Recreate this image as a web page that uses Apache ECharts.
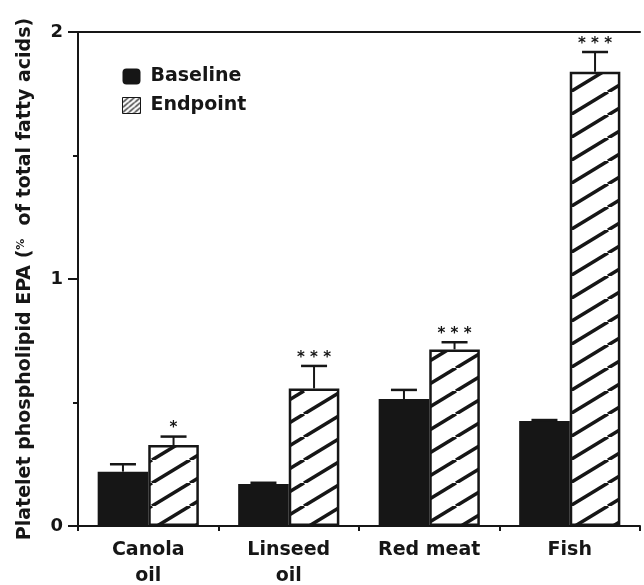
<!DOCTYPE html>
<html>
<head>
<meta charset="utf-8">
<script src="https://cdn.jsdelivr.net/npm/echarts@6/dist/echarts.min.js"></script>
<style>
html,body{margin:0;padding:0;background:#fff;}
#chart{width:644px;height:585px;}
</style>
</head>
<body>
<div id="chart"></div>
<script>
// ---- data ----
const categories = ['Canola\noil', 'Linseed\noil', 'Red meat', 'Fish'];
const baseline = [0.22, 0.17, 0.514, 0.425];
const baselineErrTop = [0.25, 0.175, 0.551, 0.429];
const endpoint = [0.328, 0.557, 0.715, 1.839];
const endpointErrTop = [0.362, 0.648, 0.744, 1.919];
const endpointStars = ['*', '* * *', '* * *', '* * *'];
const yTicks = [0, 1, 2];

const FONT = 'DejaVu Sans';
const INK = '#161616';

function hatch(w, h, lw, bg) {
  const c = document.createElement('canvas');
  c.width = w; c.height = h;
  const g = c.getContext('2d');
  g.fillStyle = bg; g.fillRect(0, 0, w, h);
  g.strokeStyle = INK; g.lineWidth = lw;
  for (const dx of [-w, 0, w]) {
    g.beginPath(); g.moveTo(dx, h); g.lineTo(dx + w, 0); g.stroke();
  }
  return c;
}
const bigHatch = hatch(38, 23, 3.6, '#fff');
const smallHatch = hatch(6, 5, 1.3, '#fff');

const BAR_FRAC = 0.36;

function errData(vals, tops, side) {
  return vals.map((v, i) => [i, v, tops[i], side]);
}

function renderErr(params, api) {
  const ci = api.value(0), top = api.value(1), errTop = api.value(2), side = api.value(3);
  const catW = api.size([1, 0])[0];
  const bw = catW * BAR_FRAC;
  const p0 = api.coord([ci, top]);
  const p1 = api.coord([ci, errTop]);
  const x = p0[0] + side * bw / 2;
  const children = [
    {type: 'line', shape: {x1: x, y1: p0[1], x2: x, y2: p1[1]}, style: {stroke: INK, lineWidth: 2}},
    {type: 'line', shape: {x1: x - 13, y1: p1[1], x2: x + 13, y2: p1[1]}, style: {stroke: INK, lineWidth: 2.5}}
  ];
  if (side > 0) {
    children.push({
      type: 'text',
      style: {
        x: x, y: p1[1] - 8, text: endpointStars[ci],
        font: 'bold 15px "' + FONT + '"', fill: INK,
        align: 'center', verticalAlign: 'middle'
      }
    });
  }
  return {type: 'group', children: children};
}

const chart = echarts.init(document.getElementById('chart'), null, {renderer: 'canvas'});
chart.setOption({
  animation: false,
  backgroundColor: '#fff',
  textStyle: {fontFamily: FONT},
  grid: {left: 78, right: 4, top: 32, bottom: 59, containLabel: false, outerBoundsMode: 'none'},
  legend: {
    orient: 'vertical', left: 117, top: 62,
    itemWidth: 18, itemHeight: 16, itemGap: 10,
    textStyle: {fontFamily: FONT, fontWeight: 'bold', fontSize: 19, color: INK, padding: [0, 0, 0, 5]},
    data: [
      {name: 'Baseline', icon: 'roundRect', itemStyle: {color: INK}},
      {name: 'Endpoint', icon: 'rect', itemStyle: {color: {image: smallHatch, repeat: 'repeat'}, borderColor: INK, borderWidth: 1}}
    ]
  },
  xAxis: [{
    type: 'category', data: categories,
    axisLine: {lineStyle: {color: INK, width: 2}},
    axisTick: {show: true, length: 5, lineStyle: {color: INK, width: 2}},
    axisLabel: {color: INK, fontFamily: FONT, fontWeight: 'bold', fontSize: 19, lineHeight: 26, margin: 11, interval: 0}
  }, {
    type: 'category', data: categories, position: 'top',
    axisLine: {show: true, lineStyle: {color: INK, width: 2}},
    axisTick: {show: false}, axisLabel: {show: false}
  }],
  yAxis: {
    type: 'value', min: 0, max: 2, interval: 1,
    name: 'Platelet phospholipid EPA ({p|%}  of total fatty acids)',
    nameLocation: 'middle', nameGap: 43, nameRotate: 90,
    nameTextStyle: {
      fontFamily: FONT, fontWeight: 'bold', fontSize: 19, color: INK,
      rich: {p: {fontSize: 11, fontFamily: FONT, color: INK, verticalAlign: 'top'}}
    },
    axisLine: {show: true, lineStyle: {color: INK, width: 2}},
    axisTick: {show: true, length: 10, lineStyle: {color: INK, width: 2}},
    minorTick: {show: true, splitNumber: 2, length: 5, lineStyle: {color: INK, width: 2}},
    splitLine: {show: false},
    axisLabel: {
      color: INK, fontFamily: FONT, fontWeight: 'bold', fontSize: 18, margin: 15,
      formatter: v => (yTicks.indexOf(v) >= 0 ? String(v) : '')
    }
  },
  series: [
    {
      name: 'Baseline', type: 'bar', data: baseline, barWidth: (BAR_FRAC * 100) + '%', barGap: '0%',
      itemStyle: {color: INK}
    },
    {
      name: 'Endpoint', type: 'bar', data: endpoint, barWidth: (BAR_FRAC * 100) + '%', barGap: '0%',
      itemStyle: {color: {image: bigHatch, repeat: 'repeat'}, borderColor: INK, borderWidth: 2.5}
    },
    {
      type: 'custom', renderItem: renderErr, data: errData(baseline, baselineErrTop, -1), z: 5,
      encode: {x: 0, y: 2}, silent: true
    },
    {
      type: 'custom', renderItem: renderErr, data: errData(endpoint, endpointErrTop, 1), z: 5,
      encode: {x: 0, y: 2}, silent: true
    }
  ]
});
</script>
</body>
</html>
